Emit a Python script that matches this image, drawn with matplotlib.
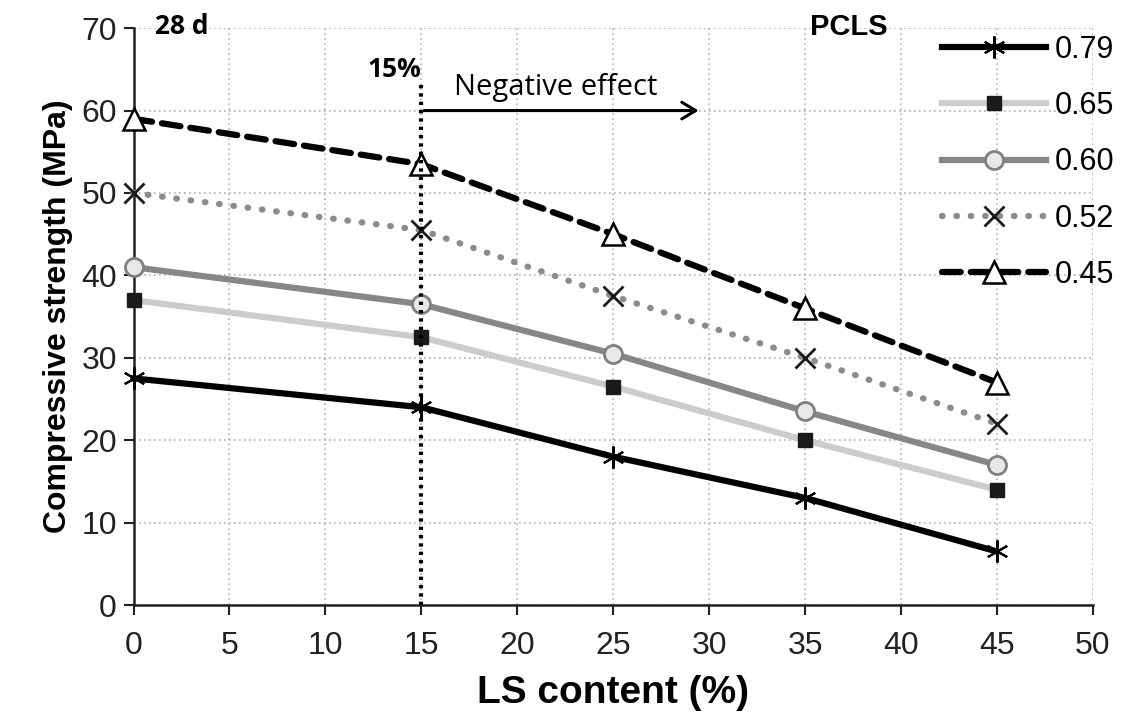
import matplotlib
matplotlib.use("Agg")
import matplotlib.pyplot as plt

plt.rcParams['font.family'] = ['Liberation Sans', 'DejaVu Sans']

ls_content = [0, 15, 25, 35, 45]
s079 = [27.5, 24.0, 18.0, 13.0, 6.5]
s065 = [37.0, 32.5, 26.5, 20.0, 14.0]
s060 = [41.0, 36.5, 30.5, 23.5, 17.0]
s052 = [50.0, 45.5, 37.5, 30.0, 22.0]
s045 = [59.0, 53.5, 45.0, 36.0, 27.0]
labels = ['0.79', '0.65', '0.60', '0.52', '0.45']

fig = plt.figure(figsize=(11.22, 7.22), dpi=100)
ax = fig.add_axes([0.119, 0.162, 0.855, 0.799])

ax.plot(ls_content, s079, color='black', lw=4.5, ls='-', marker=(6, 2, 0),
        ms=16, mec='black', mew=1.5, label=labels[0], zorder=5, clip_on=False)
ax.plot(ls_content, s065, color='#cccccc', lw=4.5, ls='-', marker='s',
        ms=10, mfc='#1a1a1a', mec='#1a1a1a', label=labels[1], zorder=4,
        clip_on=False)
ax.plot(ls_content, s060, color='#878787', lw=4.5, ls='-', marker='o',
        ms=13, mfc='#e8e8e8', mec='#808080', mew=2, label=labels[2], zorder=4,
        clip_on=False)
ax.plot(ls_content, s052, color='#8c8c8c', lw=4.5, ls=(0, (0.1, 2.2)),
        dash_capstyle='round', marker='x', ms=14, mec='#1a1a1a', mew=2,
        label=labels[3], zorder=4, clip_on=False)
ax.plot(ls_content, s045, color='black', lw=4.5, ls=(0, (3, 1.6)),
        dash_capstyle='round', marker='^', ms=16, mfc='white', mec='black',
        mew=1.8, label=labels[4], zorder=5, clip_on=False)

# vertical threshold line and arrow
ax.plot([15, 15], [0, 63.5], color='black', lw=3, ls=(0, (0.8, 1.2)), zorder=6)
ax.annotate('', xy=(29.6, 60), xytext=(15, 60),
            arrowprops=dict(arrowstyle='->,head_length=1.0,head_width=0.6',
                            color='black', lw=2.2))
ax.text(16.7, 62.8, 'Negative effect', fontsize=21, ha='left', va='center',
        family=['Open Sans', 'DejaVu Sans'])
ax.text(15.0, 65.0, '15%', fontsize=19, fontweight='bold', ha='right',
        va='center', family=['Open Sans', 'DejaVu Sans'])
ax.text(1.1, 70.2, '28 d', fontsize=19, fontweight='bold', ha='left',
        va='center', family=['Open Sans', 'DejaVu Sans'])
ax.text(37.3, 70.2, 'PCLS', fontsize=21, fontweight='bold', ha='center',
        va='center')

ax.set_xlim(0, 50)
ax.set_ylim(0, 70)
ax.set_xticks(range(0, 51, 5))
ax.set_yticks(range(0, 71, 10))
ax.tick_params(labelsize=23, length=7, width=1.5, direction='out', pad=12,
               colors='#222222')
ax.tick_params(axis='y', pad=5)
ax.grid(True, color='#b0b0b0', ls=(0, (1, 2)), lw=1.2)
for side in ['top', 'right']:
    ax.spines[side].set_visible(False)
for side in ['left', 'bottom']:
    ax.spines[side].set_linewidth(1.8)
    ax.spines[side].set_color('#222222')

ax.set_xlabel('LS content (%)', fontsize=28, fontweight='bold', labelpad=10)
ax.set_ylabel('Compressive strength (MPa)', fontsize=23, fontweight='bold',
              labelpad=6)

leg = ax.legend(loc='upper left', bbox_to_anchor=(0.826, 0.973),
                bbox_transform=fig.transFigure, frameon=False, fontsize=22,
                handlelength=3.4, labelspacing=0.86, handletextpad=0.3,
                borderpad=0)

fig.savefig('out.png', dpi=100, facecolor='white')
